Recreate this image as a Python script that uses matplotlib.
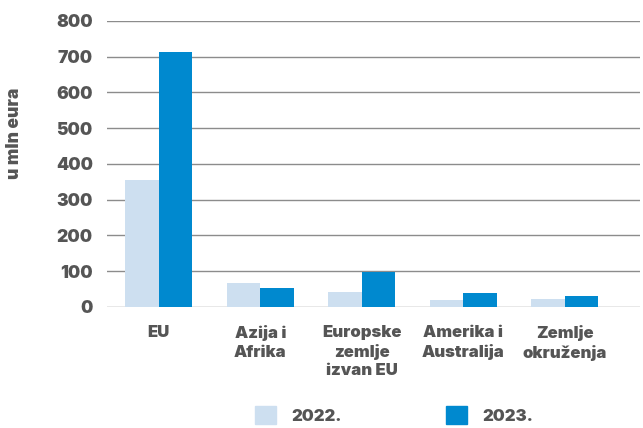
import matplotlib
matplotlib.use("Agg")
import matplotlib.pyplot as plt
import numpy as np
from matplotlib.patches import Patch

categories = ["EU", "Azija i\nAfrika", "Europske\nzemlje\nizvan EU", "Amerika i\nAustralija", "Zemlje\nokruženja"]
series_2022 = [355, 66, 43, 20, 23]
series_2023 = [713, 54, 97, 40, 31]
series_names = ["2022.", "2023."]
yticks = [0, 100, 200, 300, 400, 500, 600, 700, 800]

c22 = "#cddff0"
c23 = "#0089cf"
txt = "#555555"
W = 'black'

plt.rcParams['font.family'] = ['Inter', 'DejaVu Sans']

fig = plt.figure(figsize=(6.43, 4.28), dpi=100)
ax = fig.add_axes([0.166, 0.283, 0.829, 0.668])

x = np.arange(len(categories))
w = 0.33
ax.bar(x - w/2, series_2022, w, color=c22, zorder=3)
ax.bar(x + w/2, series_2023, w, color=c23, zorder=3)

ax.set_xlim(-0.512, 4.74)
ax.set_ylim(0, 800)
ax.set_yticks(yticks)
ax.set_yticklabels([str(v) for v in yticks], fontsize=12.5, fontweight=W, color=txt)
ax.set_xticks(x)
ax.set_xticklabels(categories, fontsize=12, fontweight=W, color=txt, va='top', linespacing=1.3)
ax.tick_params(axis='both', length=0)
ax.tick_params(axis='y', pad=10)
ax.tick_params(axis='x', pad=13)
ax.yaxis.grid(True, color="#8c8c8c", linewidth=1.0, zorder=0)
ax.set_axisbelow(True)
for s in ax.spines.values():
    s.set_visible(False)

fig.text(15/643, 1 - 133/428, "u mln eura", rotation=90, ha='center', va='center',
         fontsize=12.5, fontweight=W, color=txt)

handles = [Patch(color=c22, label=series_names[0]), Patch(color=c23, label=series_names[1])]
leg = fig.legend(handles=handles, loc='center', bbox_to_anchor=(0.613, 0.03), ncol=2,
                 frameon=False, fontsize=12, handlelength=1.26, handleheight=1.26,
                 handletextpad=0.9, columnspacing=6.3)
for t in leg.get_texts():
    t.set_color(txt)
    t.set_fontweight(W)

fig.savefig("out.png", dpi=100)
